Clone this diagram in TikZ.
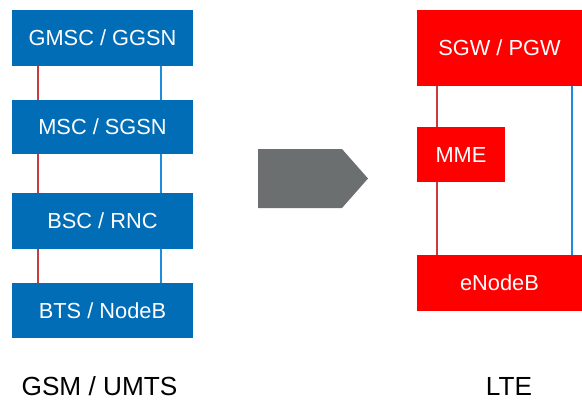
\documentclass[tikz,border=0pt]{standalone}
\usepackage{fontspec}
\setmainfont{Liberation Sans}
\usetikzlibrary{calc}
\definecolor{boxblue}{RGB}{0,109,182}
\definecolor{boxred}{RGB}{255,0,0}
\definecolor{linered}{RGB}{200,60,60}
\definecolor{lineblue}{RGB}{30,140,220}
\definecolor{arrowgray}{RGB}{108,111,112}
\tikzset{
  bluebox/.style={fill=boxblue, text=white, inner sep=0pt, minimum width=181pt, font=\fontsize{21.8}{24}\selectfont},
  redbox/.style={fill=boxred, text=white, inner sep=0pt, font=\fontsize{21.8}{24}\selectfont},
  redline/.style={draw=linered, line width=1.6pt},
  blueline/.style={draw=lineblue, line width=1.8pt},
  caption/.style={font=\fontsize{26.2}{28}\selectfont, text=black}
}
\begin{document}
\begin{tikzpicture}[x=1pt,y=-1pt]
\useasboundingbox (0,0) rectangle (582,400);
\fill[white] (0,0) rectangle (582,400);
% left column
\node[bluebox, minimum height=56pt] (gmsc) at (102.5,38) {GMSC / GGSN};
\node[bluebox, minimum height=54pt] (msc) at (102.5,127) {MSC / SGSN};
\node[bluebox, minimum height=56pt] (bsc) at (102.5,221) {BSC / RNC};
\node[bluebox, minimum height=55pt] (bts) at (102.5,310.5) {BTS / NodeB};
\foreach \a/\b in {gmsc/msc, msc/bsc, bsc/bts}{
  \draw[redline] ($(\a.south west)+(26,0)$) -- ($(\b.north west)+(26,0)$);
  \draw[blueline] ($(\a.south west)+(149,0)$) -- ($(\b.north west)+(149,0)$);
}
\node[caption] (gsm) at (99.5,386) {GSM / UMTS};
% arrow
\fill[arrowgray] (258,149) -- (342,149) -- (368,178.5) -- (342,208) -- (258,208) -- cycle;
% right column
\node[redbox, minimum width=165pt, minimum height=76pt] (sgw) at (499.5,48) {SGW / PGW};
\node[redbox, minimum width=88pt, minimum height=55pt] (mme) at (461,154.5) {MME};
\node[redbox, minimum width=165pt, minimum height=56pt] (enb) at (499.5,283) {eNodeB};
\draw[redline] ($(sgw.south west)+(20,0)$) -- ($(mme.north west)+(20,0)$);
\draw[redline] ($(mme.south west)+(20,0)$) -- ($(enb.north west)+(20,0)$);
\draw[blueline] ($(sgw.south west)+(155,0)$) -- ($(enb.north west)+(155,0)$);
\node[caption] (lte) at (509,386) {LTE};
\end{tikzpicture}
\end{document}
